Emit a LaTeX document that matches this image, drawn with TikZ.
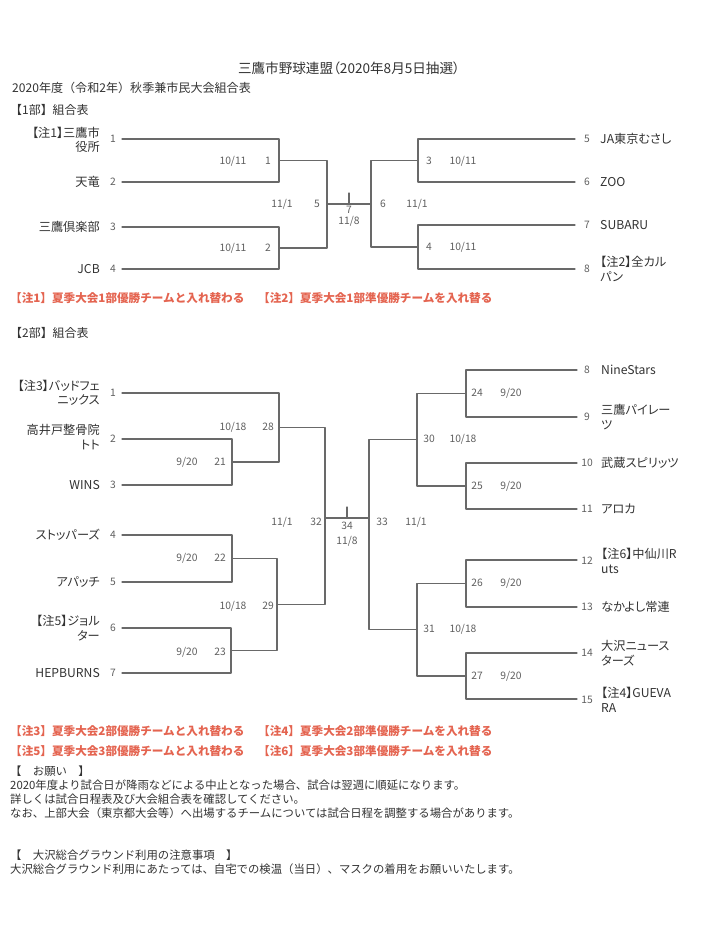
\documentclass[tikz,border=0pt]{standalone}
\usepackage{fontspec}
\setmainfont{Noto Sans CJK JP}
\newfontfamily\PropFont[RawFeature=+palt]{Noto Sans CJK JP}
\usepackage{xcolor}
\usepackage{tikz}
\usetikzlibrary{positioning}
\definecolor{LineGray}{RGB}{105,105,105}
\definecolor{TextGray}{RGB}{50,50,50}
\definecolor{NumGray}{RGB}{95,95,95}
\definecolor{NoteRed}{RGB}{228,100,80}
\newcommand{\NameFont}{\PropFont\fontsize{10.4}{12.4}\selectfont}
\newcommand{\SmallNum}{\fontsize{8.8}{10}\selectfont}
\newcommand{\BodyFont}{\fontsize{9.7}{11}\selectfont}

\begin{document}
\begin{tikzpicture}[line cap=round,line join=round,x=0.03cm,y=-0.03cm,
  bracket/.style={draw=LineGray,line width=0.95pt},
  tname/.style={text=TextGray,font=\NameFont,inner sep=0pt},
  tnameL/.style={tname,anchor=east,align=right},
  tnameR/.style={tname,anchor=west,align=left},
  tnum/.style={text=NumGray,font=\SmallNum,inner sep=0pt},
  mlab/.style={text=NumGray,font=\SmallNum,inner sep=0pt},
  note/.style={text=NoteRed,font=\fontsize{9.9}{11}\selectfont\bfseries,anchor=west,inner sep=0pt},
  body/.style={text=TextGray,font=\BodyFont,anchor=west,inner sep=0pt}]
  \useasboundingbox (0,0) rectangle (701,925);
  % heading
  \node[text=TextGray,font=\PropFont\fontsize{11.6}{13}\selectfont,inner sep=0pt] (title) at (349,68) {三鷹市野球連盟（2020年8月5日抽選）};
  \node[body,font=\fontsize{10.3}{12}\selectfont] (season) at (12,88) {2020年度（令和2年）秋季兼市民大会組合表};
  \node[body,font=\fontsize{10.2}{12}\selectfont] (div1) at (10,110) {【1部】組合表};

  % 1部 left
  \coordinate (a1) at (122,139);
  \coordinate (a2) at (122,182);
  \coordinate (a3) at (122,227);
  \coordinate (a4) at (122,269);
  \coordinate (m1) at (279,160.5);
  \coordinate (m2) at (279,248);
  \coordinate (m5) at (327,204);
  % 1部 right
  \coordinate (a5) at (575,139);
  \coordinate (a6) at (575,182);
  \coordinate (a7) at (575,225);
  \coordinate (a8) at (575,269);
  \coordinate (m3) at (418,160.5);
  \coordinate (m4) at (418,247);
  \coordinate (m6) at (371,204);
  \coordinate (k7) at (349,204);
  \coordinate (k7top) at (349,193);

  \draw[bracket] (a1) -| (m1) |- (a2);
  \draw[bracket] (a3) -| (m2) |- (a4);
  \draw[bracket] (m1) -| (m5) |- (m2);
  \draw[bracket] (a5) -| (m3) |- (a6);
  \draw[bracket] (a7) -| (m4) |- (a8);
  \draw[bracket] (m3) -| (m6) |- (m4);
  \draw[bracket] (m5) -- (m6);
  \draw[bracket] (k7) -- (k7top);

  \node[tnum] (e1) at (113,139) {1};
  \node[tnum] (e2) at (113,182) {2};
  \node[tnum] (e3) at (113,227) {3};
  \node[tnum] (e4) at (113,269) {4};
  \node[tnameL] (s1) at (100,140) {【注1】三鷹市\\役所};
  \node[tnameL] (s2) at (100,182) {天竜};
  \node[tnameL] (s3) at (100,227) {三鷹倶楽部};
  \node[tnameL] (s4) at (100,269) {JCB};
  \node[tnum] (e5) at (587,139) {5};
  \node[tnum] (e6) at (587,182) {6};
  \node[tnum] (e7) at (587,225) {7};
  \node[tnum] (e8) at (587,269) {8};
  \node[tnameR] (s5) at (600,139) {JA東京むさし};
  \node[tnameR] (s6) at (600,182) {ZOO};
  \node[tnameR] (s7) at (600,225) {SUBARU};
  \node[tnameR] (s8) at (600,269) {【注2】全カル\\パン};

  \node[mlab] (d1) at (233,161) {10/11};
  \node[mlab] (g1) at (268,161) {1};
  \node[mlab] (d2) at (233,248) {10/11};
  \node[mlab] (g2) at (268,248) {2};
  \node[mlab] (d5) at (282,204) {11/1};
  \node[mlab] (g5) at (317,204) {5};
  \node[mlab] (g3) at (429,161) {3};
  \node[mlab] (d3) at (463,161) {10/11};
  \node[mlab] (g4) at (429,247) {4};
  \node[mlab] (d4) at (463,247) {10/11};
  \node[mlab] (g6) at (383,204) {6};
  \node[mlab] (d6) at (417,204) {11/1};
  \node[mlab] (g7) at (349,210) {7};
  \node[mlab, below=2pt of g7] (d7) {11/8};

  \node[note] (n1) at (10,298) {【注1】夏季大会1部優勝チームと入れ替わる};
  \node[note] (n2) at (258,298) {【注2】夏季大会1部準優勝チームを入れ替る};

  % 2部
  \node[body,font=\fontsize{10.2}{12}\selectfont] (div2) at (10,333) {【2部】組合表};
  \coordinate (b1) at (122,393);
  \coordinate (b2) at (122,439);
  \coordinate (b3) at (122,485);
  \coordinate (b4) at (122,535);
  \coordinate (b5) at (122,582);
  \coordinate (b6) at (122,628);
  \coordinate (b7) at (122,673);
  \coordinate (m21) at (232,462);
  \coordinate (m22) at (232,558.5);
  \coordinate (m23) at (231,650.5);
  \coordinate (m28) at (279,427.5);
  \coordinate (m29) at (277,604.5);
  \coordinate (m32) at (325,518);
  \coordinate (b8) at (577,370);
  \coordinate (b9) at (577,417);
  \coordinate (b10) at (577,463);
  \coordinate (b11) at (577,509);
  \coordinate (b12) at (577,560);
  \coordinate (b13) at (577,607);
  \coordinate (b14) at (577,653);
  \coordinate (b15) at (577,699);
  \coordinate (m24) at (466,393.5);
  \coordinate (m25) at (466,486);
  \coordinate (m26) at (466,583.5);
  \coordinate (m27) at (466,676);
  \coordinate (m30) at (417,439.75);
  \coordinate (m31) at (417,629.75);
  \coordinate (m33) at (369,518);
  \coordinate (k34) at (347,518);
  \coordinate (k34top) at (347,507);

  \draw[bracket] (b2) -| (m21) |- (b3);
  \draw[bracket] (b1) -| (m28) |- (m21);
  \draw[bracket] (b4) -| (m22) |- (b5);
  \draw[bracket] (b6) -| (m23) |- (b7);
  \draw[bracket] (m22) -| (m29) |- (m23);
  \draw[bracket] (m28) -| (m32) |- (m29);
  \draw[bracket] (b8) -| (m24) |- (b9);
  \draw[bracket] (b10) -| (m25) |- (b11);
  \draw[bracket] (b12) -| (m26) |- (b13);
  \draw[bracket] (b14) -| (m27) |- (b15);
  \draw[bracket] (m24) -| (m30) |- (m25);
  \draw[bracket] (m26) -| (m31) |- (m27);
  \draw[bracket] (m30) -| (m33) |- (m31);
  \draw[bracket] (m32) -- (m33);
  \draw[bracket] (k34) -- (k34top);

  \node[tnum] (f1) at (113,393) {1};
  \node[tnum] (f2) at (113,439) {2};
  \node[tnum] (f3) at (113,485) {3};
  \node[tnum] (f4) at (113,535) {4};
  \node[tnum] (f5) at (113,582) {5};
  \node[tnum] (f6) at (113,628) {6};
  \node[tnum] (f7) at (113,673) {7};
  \node[tnameL] (r1) at (100,393) {【注3】バッドフェ\\ニックス};
  \node[tnameL] (r2) at (100,437) {高井戸整骨院\\トト};
  \node[tnameL] (r3) at (100,485) {WINS};
  \node[tnameL] (r4) at (100,535) {ストッパーズ};
  \node[tnameL] (r5) at (100,582) {アパッチ};
  \node[tnameL] (r6) at (100,628) {【注5】ジョル\\ター};
  \node[tnameL] (r7) at (100,673) {HEPBURNS};
  \node[tnum] (f8) at (587,370) {8};
  \node[tnum] (f9) at (587,417) {9};
  \node[tnum] (f10) at (587,463) {10};
  \node[tnum] (f11) at (587,509) {11};
  \node[tnum] (f12) at (587,561) {12};
  \node[tnum] (f13) at (587,607) {13};
  \node[tnum] (f14) at (587,653) {14};
  \node[tnum] (f15) at (587,700) {15};
  \node[tnameR] (r8) at (601,370) {NineStars};
  \node[tnameR] (r9) at (601,417) {三鷹パイレー\\ツ};
  \node[tnameR] (r10) at (601,463) {武蔵スピリッツ};
  \node[tnameR] (r11) at (601,509) {アロカ};
  \node[tnameR] (r12) at (601,561) {【注6】中仙川R\\uts};
  \node[tnameR] (r13) at (601,607) {なかよし常連};
  \node[tnameR] (r14) at (601,653) {大沢ニュース\\ターズ};
  \node[tnameR] (r15) at (601,700) {【注4】GUEVA\\RA};

  \node[mlab] (h21) at (187,462) {9/20};
  \node[mlab] (q21) at (220,462) {21};
  \node[mlab] (h28) at (233,427) {10/18};
  \node[mlab] (q28) at (268,427) {28};
  \node[mlab] (h22) at (187,558) {9/20};
  \node[mlab] (q22) at (220,558) {22};
  \node[mlab] (h23) at (187,652) {9/20};
  \node[mlab] (q23) at (220,652) {23};
  \node[mlab] (h29) at (233,606) {10/18};
  \node[mlab] (q29) at (268,606) {29};
  \node[mlab] (h32) at (282,522) {11/1};
  \node[mlab] (q32) at (316,522) {32};
  \node[mlab] (q24) at (477,393) {24};
  \node[mlab] (h24) at (511,393) {9/20};
  \node[mlab] (q25) at (477,486) {25};
  \node[mlab] (h25) at (511,486) {9/20};
  \node[mlab] (q26) at (477,583) {26};
  \node[mlab] (h26) at (511,583) {9/20};
  \node[mlab] (q27) at (477,676) {27};
  \node[mlab] (h27) at (511,676) {9/20};
  \node[mlab] (q30) at (429,439) {30};
  \node[mlab] (h30) at (463,439) {10/18};
  \node[mlab] (q31) at (429,629) {31};
  \node[mlab] (h31) at (463,629) {10/18};
  \node[mlab] (q33) at (382,522) {33};
  \node[mlab] (h33) at (416,522) {11/1};
  \node[mlab] (q34) at (347,526) {34};
  \node[mlab, below=5pt of q34] (h34) {11/8};

  % notes
  \node[note] (n3) at (10,731) {【注3】夏季大会2部優勝チームと入れ替わる};
  \node[note] (n4) at (258,731) {【注4】夏季大会2部準優勝チームを入れ替る};
  \node[note] (n5) at (10,751) {【注5】夏季大会3部優勝チームと入れ替わる};
  \node[note] (n6) at (258,751) {【注6】夏季大会3部準優勝チームを入れ替る};
  \node[body] (ask) at (10,771) {【　お願い　】};
  \node[body] (ask1) at (10,785) {2020年度より試合日が降雨などによる中止となった場合、試合は翌週に順延になります。};
  \node[body] (ask2) at (10,799) {詳しくは試合日程表及び大会組合表を確認してください。};
  \node[body] (ask3) at (10,813) {なお、上部大会（東京都大会等）へ出場するチームについては試合日程を調整する場合があります。};
  \node[body] (gnd) at (10,855) {【　大沢総合グラウンド利用の注意事項　】};
  \node[body] (gnd1) at (10,869) {大沢総合グラウンド利用にあたっては、自宅での検温（当日）、マスクの着用をお願いいたします。};
\end{tikzpicture}
\end{document}
